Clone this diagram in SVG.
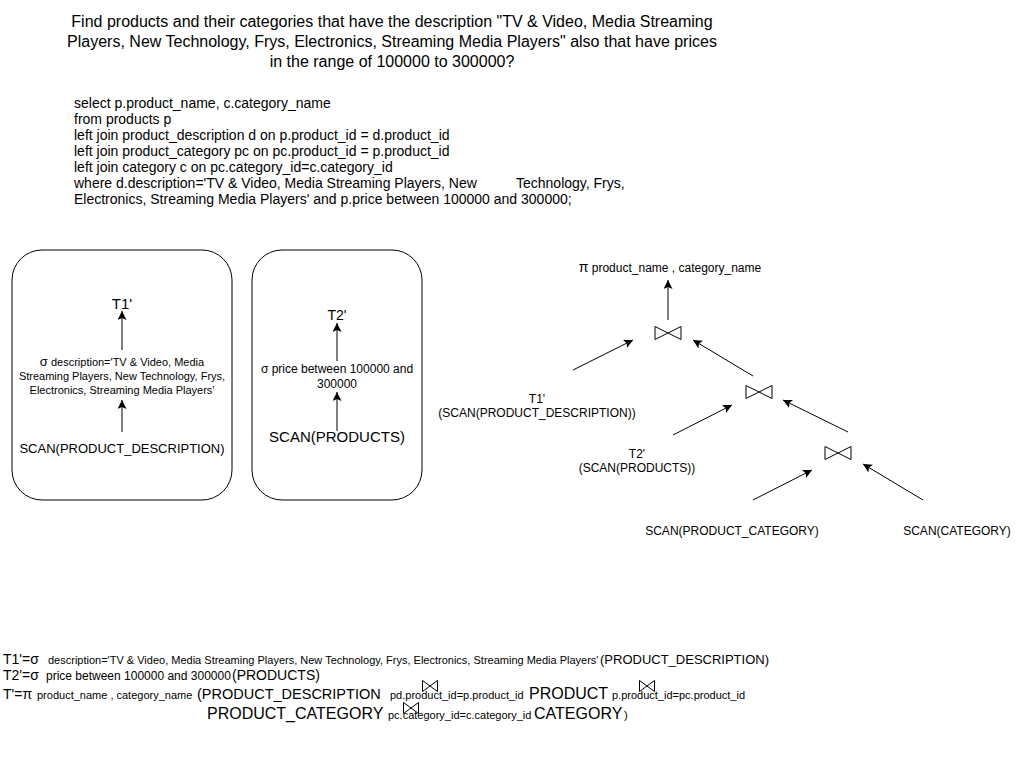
<svg xmlns="http://www.w3.org/2000/svg" width="1033" height="772" viewBox="0 0 1033 772">
<style>
text{font-family:"Liberation Sans",Arial,sans-serif;fill:#000}
.t16{font-size:16px}
.t14{font-size:14px}
.t13{font-size:13px}
.t12{font-size:12px}
.t11{font-size:11px}
.mid{text-anchor:middle}
.box{fill:#fff;stroke:#000;stroke-width:1}
.conn{stroke:#000;stroke-width:1;fill:none;marker-end:url(#arr)}
.bow{fill:none;stroke:#000;stroke-width:1}
</style>
<defs>
<marker id="arr" markerUnits="userSpaceOnUse" markerWidth="10" markerHeight="9" refX="9" refY="4.5" orient="auto" viewBox="0 0 10 9">
<path d="M0,0 L9,4.5 L0,9 L2,4.5 z" fill="#000"/>
</marker>
<path id="bt" d="M-13,-6.5 L-13,6.5 L13,-6.5 L13,6.5 Z"/>
<path id="bs" d="M-7.5,-5.5 L-7.5,5.5 L7.5,-5.5 L7.5,5.5 Z"/>
</defs>
<rect width="1033" height="772" fill="#fff"/>

<g id="title">
<text class="t16 mid" x="392" y="27">Find products and their categories that have the description "TV &amp; Video, Media Streaming</text>
<text class="t16 mid" x="392" y="47">Players, New Technology, Frys, Electronics, Streaming Media Players" also that have prices</text>
<text class="t16 mid" x="392" y="67">in the range of 100000 to 300000?</text>
</g>

<g id="sql" class="t14">
<text x="74" y="108">select p.product_name, c.category_name</text>
<text x="74" y="124">from products p</text>
<text x="74" y="140">left join product_description d on p.product_id = d.product_id</text>
<text x="74" y="156">left join product_category pc on pc.product_id = p.product_id</text>
<text x="74" y="172">left join category c on pc.category_id=c.category_id</text>
<text x="74" y="188">where d.description='TV &amp; Video, Media Streaming Players, New<tspan x="516">Technology, Frys,</tspan></text>
<text x="74" y="204">Electronics, Streaming Media Players' and p.price between 100000 and 300000;</text>
</g>

<g id="box1">
<rect class="box" x="12" y="250" width="220" height="250" rx="30" ry="30"/>
<text class="t14 mid" x="122" y="309" style="font-size:15px">T1'</text>
<text class="t11 mid" x="122" y="366"><tspan style="font-size:13px">σ</tspan>  description='TV &amp; Video, Media</text>
<text class="t11 mid" x="122" y="380">Streaming Players, New Technology, Frys,</text>
<text class="t11 mid" x="122" y="394">Electronics, Streaming Media Players'</text>
<text class="t13 mid" x="122" y="453">SCAN(PRODUCT_DESCRIPTION)</text>
</g>

<g id="box2">
<rect class="box" x="252" y="250" width="170" height="250" rx="30" ry="30"/>
<text class="t14 mid" x="337" y="320">T2'</text>
<text class="t12 mid" x="337" y="373">σ price between 100000 and</text>
<text class="t12 mid" x="337" y="388">300000</text>
<text class="t14 mid" x="337" y="442" style="font-size:15px">SCAN(PRODUCTS)</text>
</g>

<g id="proj"><text class="t12 mid" x="670" y="272"><tspan style="font-size:14px">π</tspan> product_name , category_name</text></g>
<g id="join1"><use href="#bt" class="bow" x="668" y="333"/></g>
<g id="join2"><use href="#bt" class="bow" x="759" y="392"/></g>
<g id="join3"><use href="#bt" class="bow" x="838" y="453"/></g>
<g id="t1leaf"><text class="t12 mid" x="537" y="403">T1'</text><text class="t12 mid" x="537" y="417">(SCAN(PRODUCT_DESCRIPTION))</text></g>
<g id="t2leaf"><text class="t12 mid" x="637" y="458">T2'</text><text class="t12 mid" x="637" y="472">(SCAN(PRODUCTS))</text></g>
<g id="pcleaf"><text class="t12 mid" x="732" y="535">SCAN(PRODUCT_CATEGORY)</text></g>
<g id="cleaf"><text class="t12 mid" x="957" y="535">SCAN(CATEGORY)</text></g>

<g id="connectors">
<line class="conn" x1="122" y1="350" x2="122" y2="311"/>
<line class="conn" x1="122" y1="432" x2="122" y2="400"/>
<line class="conn" x1="337" y1="361" x2="337" y2="323"/>
<line class="conn" x1="337" y1="431" x2="337" y2="392"/>
<line class="conn" x1="668" y1="320" x2="668" y2="280"/>
<line class="conn" x1="573" y1="370" x2="633" y2="340"/>
<line class="conn" x1="753" y1="376" x2="693" y2="340"/>
<line class="conn" x1="673" y1="435" x2="732" y2="405"/>
<line class="conn" x1="848" y1="432" x2="783" y2="400"/>
<line class="conn" x1="753" y1="500" x2="812" y2="470"/>
<line class="conn" x1="923" y1="500" x2="863" y2="464"/>
</g>

<g id="formulas">
<text x="3" y="664"><tspan class="t14">T1'=σ</tspan><tspan class="t11" x="48">description='TV &amp; Video, Media Streaming Players, New Technology, Frys, Electronics, Streaming Media Players'</tspan><tspan class="t13" x="600">(PRODUCT_DESCRIPTION)</tspan></text>
<text x="3" y="680"><tspan class="t14">T2'=σ</tspan><tspan class="t12" x="46">price between 100000 and 300000</tspan><tspan class="t14" x="232">(PRODUCTS)</tspan></text>
<text x="3" y="699"><tspan class="t14">T'=π</tspan><tspan class="t11" x="37">product_name , category_name</tspan><tspan class="t14" x="197" style="font-size:14.5px">(PRODUCT_DESCRIPTION</tspan><tspan class="t11" x="390">pd.product_id=p.product_id</tspan><tspan x="529" style="font-size:16px">PRODUCT</tspan><tspan class="t11" x="612">p.product_id=pc.product_id</tspan></text>
<text x="207" y="719"><tspan style="font-size:16px">PRODUCT_CATEGORY</tspan><tspan class="t11" x="388">pc.category_id=c.category_id</tspan><tspan x="534" style="font-size:16px">CATEGORY</tspan><tspan class="t11" x="624">)</tspan></text>
<use href="#bs" class="bow" x="430" y="686"/>
<use href="#bs" class="bow" x="647" y="686"/>
<use href="#bs" class="bow" x="411" y="708"/>
</g>
</svg>
